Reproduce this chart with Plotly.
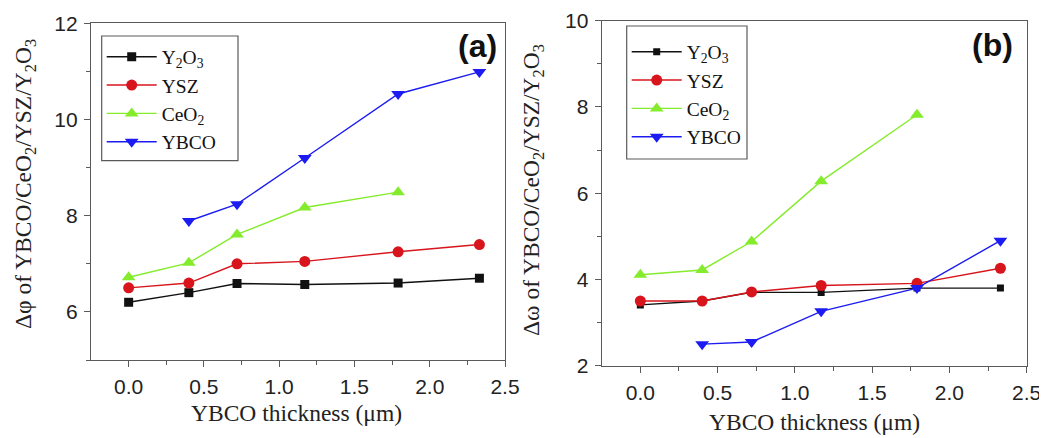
import plotly.graph_objects as go

# YBCO film thickness (um)
thickness = [0.0, 0.40, 0.72, 1.17, 1.79, 2.33]

# (a) in-plane FWHM, delta-phi (deg)
phi_y2o3 = [6.20, 6.40, 6.59, 6.57, 6.60, 6.70]
phi_ysz = [6.50, 6.60, 7.00, 7.05, 7.25, 7.40]
phi_ceo2 = [6.72, 7.02, 7.61, 8.17, 8.49]
phi_ybco = [7.89, 8.24, 9.20, 10.53, 10.99]

# (b) out-of-plane FWHM, delta-omega (deg)
omega_y2o3 = [3.41, 3.50, 3.70, 3.70, 3.80, 3.80]
omega_ysz = [3.50, 3.50, 3.71, 3.86, 3.91, 4.26]
omega_ceo2 = [4.11, 4.22, 4.88, 6.28, 7.82]
omega_ybco = [2.50, 2.55, 3.26, 3.80, 4.90]

W, H = 1047, 438

BLACK = "#111111"
RED = "#d8141c"
GREEN = "#84ec2c"
BLUE = "#1c1cf2"
FRAME = "#5a5a5a"

SANS = "Liberation Sans, Arial, sans-serif"
SERIF = "Liberation Serif, Times New Roman, serif"

series_a = [
    ("Y<sub>2</sub>O<sub>3</sub>", thickness, phi_y2o3, BLACK, "square", 9),
    ("YSZ", thickness, phi_ysz, RED, "circle", 11),
    ("CeO<sub>2</sub>", thickness[:5], phi_ceo2, GREEN, "triangle-up", 12),
    ("YBCO", thickness[1:], phi_ybco, BLUE, "triangle-down", 12),
]
series_b = [
    ("Y<sub>2</sub>O<sub>3</sub>", thickness, omega_y2o3, BLACK, "square", 7),
    ("YSZ", thickness, omega_ysz, RED, "circle", 11),
    ("CeO<sub>2</sub>", thickness[:5], omega_ceo2, GREEN, "triangle-up", 12),
    ("YBCO", thickness[1:], omega_ybco, BLUE, "triangle-down", 12),
]

fig = go.Figure()

for name, xs, ys, col, sym, size in series_a:
    fig.add_trace(go.Scatter(
        x=xs, y=ys, name=name, mode="lines+markers",
        line=dict(color=col, width=1.4),
        marker=dict(symbol=sym, size=size, color=col),
        xaxis="x", yaxis="y", legend="legend",
    ))

for name, xs, ys, col, sym, size in series_b:
    fig.add_trace(go.Scatter(
        x=xs, y=ys, name=name, mode="lines+markers",
        line=dict(color=col, width=1.4),
        marker=dict(symbol=sym, size=size, color=col),
        xaxis="x2", yaxis="y2", legend="legend2",
    ))


def px_x(v):
    return v / W


def px_y(v):
    return 1 - v / H


tick_font = dict(family=SANS, size=21, color="#222222")

common_axis = dict(
    showline=True, linecolor=FRAME, linewidth=1.3, mirror=True,
    ticks="outside", ticklen=6, tickwidth=1.2, tickcolor=FRAME,
    showgrid=False, zeroline=False, tickfont=tick_font,
    ticklabelstandoff=2, automargin=False,
)

minor_x = dict(tickvals=[0.25, 0.75, 1.25, 1.75, 2.25], ticklen=4,
               tickcolor=FRAME, ticks="outside", tickwidth=1.2)

legend_style = dict(
    xanchor="left", yanchor="top",
    borderwidth=0, bgcolor="rgba(0,0,0,0)",
    font=dict(family=SERIF, size=19.5, color="#111111"),
    tracegroupgap=0, itemwidth=50,
)

fig.update_layout(
    template="none",
    width=W, height=H, autosize=False,
    margin=dict(l=0, r=0, t=0, b=0, pad=0),
    paper_bgcolor="white", plot_bgcolor="white",
    xaxis=dict(
        domain=[px_x(91), px_x(505)], range=[-0.25, 2.5], anchor="y",
        tickvals=[0.0, 0.5, 1.0, 1.5, 2.0, 2.5],
        ticktext=["0.0", "0.5", "1.0", "1.5", "2.0", "2.5"],
        minor=minor_x, **common_axis,
    ),
    yaxis=dict(
        domain=[px_y(360), px_y(23.3)], range=[5, 12], anchor="x",
        tickvals=[6, 8, 10, 12],
        minor=dict(tickvals=[5, 7, 9, 11], ticklen=4, tickwidth=1.2,
                   tickcolor=FRAME, ticks="outside"),
        **common_axis,
    ),
    xaxis2=dict(
        domain=[px_x(601.7), px_x(1026.7)], range=[-0.25, 2.5], anchor="y2",
        tickvals=[0.0, 0.5, 1.0, 1.5, 2.0, 2.5],
        ticktext=["0.0", "0.5", "1.0", "1.5", "2.0", "2.5"],
        minor=minor_x, **common_axis,
    ),
    yaxis2=dict(
        domain=[px_y(365.7), px_y(20.7)], range=[2, 10], anchor="x2",
        tickvals=[2, 4, 6, 8, 10],
        minor=dict(tickvals=[3, 5, 7, 9], ticklen=4, tickwidth=1.2,
                   tickcolor=FRAME, ticks="outside"),
        **common_axis,
    ),
    legend=dict(x=px_x(101.7), y=px_y(37.5), **legend_style),
    legend2=dict(x=px_x(626.7), y=px_y(32.5), **legend_style),
    showlegend=True,
)

title_font = dict(family=SERIF, size=23.5, color="#222222")


def label(text, x, y, font, angle=0):
    return dict(text=text, x=px_x(x), y=px_y(y), xref="paper", yref="paper",
                xanchor="center", yanchor="middle", showarrow=False,
                textangle=angle, font=font)


annotations = [
    # panel labels
    label("<b>(a)</b>", 477, 46, dict(family=SANS, size=32, color="#111111")),
    label("<b>(b)</b>", 992, 45, dict(family=SANS, size=32, color="#111111")),
    # x-axis titles
    label("YBCO thickness (\u03bcm)", 296, 413, title_font),
    label("YBCO thickness (\u03bcm)", 814, 422, title_font),
    # y-axis titles
    label("\u0394\u03c6 of YBCO/CeO<sub>2</sub>/YSZ/Y<sub>2</sub>O<sub>3</sub>",
          25, 184, title_font, -90),
    label("\u0394\u03c9 of YBCO/CeO<sub>2</sub>/YSZ/Y<sub>2</sub>O<sub>3</sub>",
          533, 190, title_font, -90),
]
fig.update_layout(annotations=annotations)

# legend frames
for x0, y0, x1, y1 in [(101.7, 36, 238, 160.7), (626.7, 26, 747, 159)]:
    fig.add_shape(type="rect", xref="paper", yref="paper",
                  x0=px_x(x0), x1=px_x(x1), y0=px_y(y1), y1=px_y(y0),
                  fillcolor="rgba(0,0,0,0)", line=dict(color=FRAME, width=1.2),
                  layer="above")

# the last tick labels are trimmed at the panel edges
fig.add_shape(type="rect", xref="paper", yref="paper",
              x0=px_x(520), x1=px_x(528), y0=px_y(400), y1=px_y(368),
              fillcolor="white", line=dict(width=0), layer="above")
fig.add_shape(type="rect", xref="paper", yref="paper",
              x0=px_x(1039), x1=1.0, y0=px_y(405), y1=px_y(372),
              fillcolor="white", line=dict(width=0), layer="above")

fig.write_html("out.html")
